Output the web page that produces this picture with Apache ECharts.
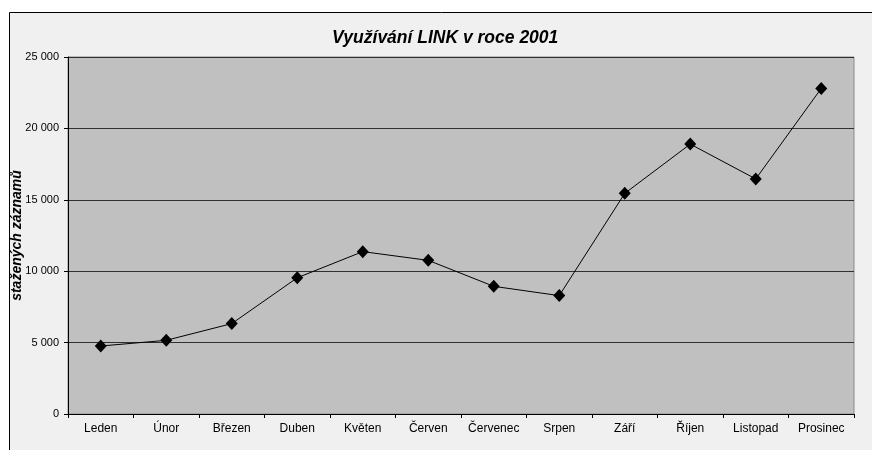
<!DOCTYPE html>
<html>
<head>
<meta charset="utf-8">
<script src="https://cdn.jsdelivr.net/npm/echarts@6/dist/echarts.min.js"></script>
<style>
html,body{margin:0;padding:0;background:#fff;}
#c{width:872px;height:450px;}
</style>
</head>
<body>
<div id="c"></div>
<script>
const categories = ['Leden','Únor','Březen','Duben','Květen','Červen','Červenec','Srpen','Září','Říjen','Listopad','Prosinec'];
const downloads = [4760, 5160, 6330, 9540, 11370, 10760, 8940, 8290, 15450, 18900, 16460, 22800];
const titleText = 'Využívání LINK v roce 2001';
const yAxisName = 'stažených záznamů';

const chart = echarts.init(document.getElementById('c'));
const font = '"Liberation Sans", Arial, sans-serif';
chart.setOption({
  animation: false,
  backgroundColor: '#ffffff',
  graphic: [{
    type: 'rect', z: -10, silent: true,
    shape: {x: 9.5, y: 12.5, width: 900, height: 500},
    style: {fill: '#f0f0f0', stroke: '#000', lineWidth: 1}
  }],
  title: {
    text: titleText, left: 327, top: 24,
    textStyle: {fontFamily: font, fontSize: 17.5, fontWeight: 'bold', fontStyle: 'italic', color: '#000'}
  },
  grid: {
    left: 68, top: 57, right: 18, bottom: 36,
    outerBoundsMode: 'none', containLabel: false,
    show: true, backgroundColor: '#c0c0c0', borderColor: '#8a8a8a', borderWidth: 1
  },
  xAxis: {
    type: 'category', data: categories, boundaryGap: true,
    axisLine: {lineStyle: {color: '#000', width: 1}},
    axisTick: {show: true, length: 4, alignWithLabel: false, lineStyle: {color: '#000'}},
    axisLabel: {fontFamily: font, fontSize: 12, color: '#000', margin: 9, interval: 0}
  },
  yAxis: {
    type: 'value', min: 0, max: 25000, interval: 5000,
    name: yAxisName, nameLocation: 'middle', nameGap: 44, nameMoveOverlap: false,
    nameTextStyle: {fontFamily: font, fontSize: 14, fontWeight: 'bold', fontStyle: 'italic', color: '#000'},
    axisLine: {show: true, lineStyle: {color: '#000', width: 1}},
    axisTick: {show: true, length: 4, lineStyle: {color: '#000'}},
    axisLabel: {fontFamily: font, fontSize: 11, color: '#000', margin: 9,
      formatter: v => String(v).replace(/\B(?=(\d{3})+(?!\d))/g, ' ')},
    splitLine: {show: true, lineStyle: {color: '#303030', width: 1}}
  },
  series: [{
    type: 'line', data: downloads,
    symbol: 'diamond', symbolSize: [12, 13],
    itemStyle: {color: '#000'},
    lineStyle: {color: '#000', width: 1}
  }]
});
</script>
</body>
</html>
